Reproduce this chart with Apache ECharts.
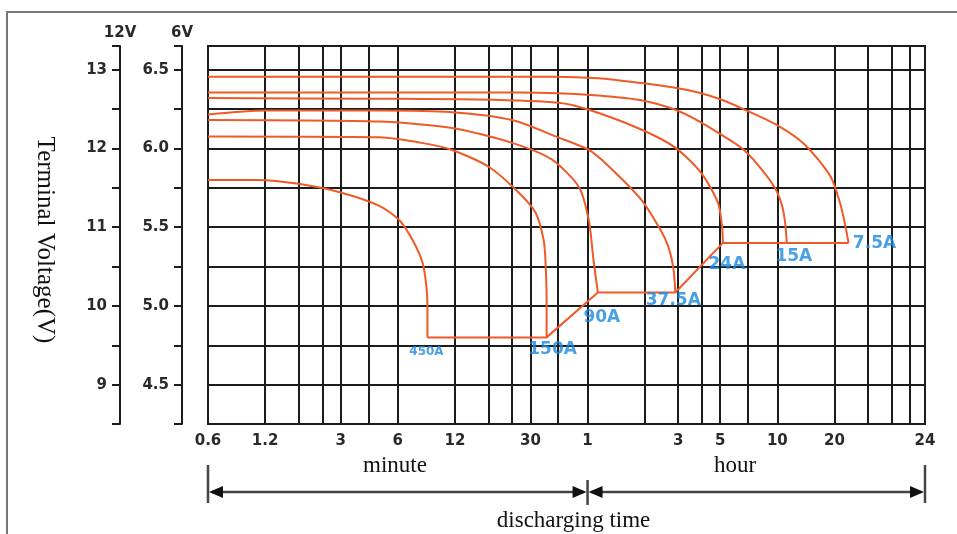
<!DOCTYPE html>
<html>
<head>
<meta charset="utf-8">
<script src="https://cdn.jsdelivr.net/npm/echarts@6.0.0/dist/echarts.min.js"></script>
<style>
html, body { margin: 0; padding: 0; background: #fff; }
#chart { width: 957px; height: 534px; }
</style>
</head>
<body>
<div id="chart"></div>
<script>
// discharge time in minutes, terminal voltage on the 12V scale
var currents = ['450A', '150A', '90A', '37.5A', '24A', '15A', '7.5A'];

var curve450 = [[0.6, 11.60], [1.1, 11.60], [1.8, 11.55], [3.0, 11.44], [4.8, 11.27], [6.1, 11.09], [7.2, 10.83], [8.1, 10.55], [8.47, 10.27], [8.6, 10.01], [8.6, 9.60]];
var curve150 = [[0.6, 12.15], [4.8, 12.14], [8, 12.07], [11.6, 11.98], [18, 11.77], [26, 11.44], [32, 11.18], [35.2, 10.84], [36, 10.58], [36.5, 10.08], [36.5, 9.60]];
var curve90 = [[0.6, 12.36], [4.8, 12.34], [11.6, 12.26], [24, 12.07], [38.8, 11.86], [54, 11.51], [61, 11.08], [64.5, 10.58], [68, 10.17]];
var curve37 = [[0.6, 12.43], [1.2, 12.48], [4.8, 12.48], [11.6, 12.46], [24, 12.36], [42, 12.14], [61, 11.98], [77, 11.78], [115, 11.35], [145, 10.97], [160, 10.75], [170, 10.48], [174, 10.17]];
var curve24 = [[0.6, 12.64], [4.8, 12.63], [16, 12.62], [42, 12.58], [61, 12.49], [115, 12.24], [174, 12.01], [238, 11.69], [292, 11.31], [307, 11.0], [310, 10.80]];
var curve15 = [[0.6, 12.71], [26, 12.71], [42, 12.70], [68.5, 12.67], [115, 12.61], [174, 12.49], [230, 12.35], [292, 12.20], [386, 12.01], [474, 11.79], [582, 11.50], [634, 11.28], [660, 11.05], [673, 10.80]];
var curve7 = [[0.6, 12.91], [40, 12.91], [68.5, 12.89], [115, 12.83], [174, 12.77], [230, 12.71], [303, 12.62], [405, 12.49], [604, 12.29], [836, 12.05], [1146, 11.64], [1293, 11.28], [1374, 11.00], [1423, 10.80]];
var cutoff = [[8.6, 9.60], [36.5, 9.60], [68, 10.17], [174, 10.17], [310, 10.80], [1423, 10.80]];

var curves = [curve450, curve150, curve90, curve37, curve24, curve15, curve7];

// vertical grid lines (minutes) and the printed tick labels
var gridTimes = [0.6, 1.2, 1.8, 2.4, 3, 4.2, 6, 12, 18, 24, 30, 42, 60, 120, 180, 240, 300, 420, 600, 1200, 1800, 2400, 3000, 3600];
var labelTimes = [0.6, 1.2, 3, 6, 12, 30, 60, 180, 300, 600, 1200, 3600];
var labelTexts = ['0.6', '1.2', '3', '6', '12', '30', '1', '3', '5', '10', '20', '24'];

// where each current label sits relative to the end of its curve
var labelOffsets = [[-1, 14], [6, 12], [4, 25], [-2, 8], [4, 22], [7, 14], [26, 1]];
var labelSizes = [12, 17, 17, 17, 17, 17, 17];

var chart = echarts.init(document.getElementById('chart'));

var INK = '#1c1c1c';
var tickFont = { fontFamily: 'DejaVu Sans', fontWeight: 'bold', fontSize: 15, color: '#2a2a2a' };

var series = curves.map(function (c, i) {
    return {
        name: currents[i],
        type: 'line',
        data: c,
        showSymbol: false,
        smooth: 0.25,
        lineStyle: { color: '#ef5a28', width: 2 },
        z: 3
    };
});

series.push({
    name: 'cutoff',
    type: 'line',
    data: cutoff,
    showSymbol: false,
    lineStyle: { color: '#ef5a28', width: 2 },
    z: 3
});

series.push({
    name: 'labels',
    type: 'scatter',
    symbolSize: 1,
    itemStyle: { color: 'rgba(0,0,0,0)' },
    data: curves.map(function (c, i) {
        return {
            value: c[c.length - 1],
            label: {
                show: true,
                position: 'inside',
                formatter: currents[i],
                offset: labelOffsets[i],
                fontSize: labelSizes[i]
            }
        };
    }),
    label: {
        show: true,
        color: '#1a88e0',
        fontFamily: 'DejaVu Sans',
        fontWeight: 'bold'
    },
    z: 5
});

var option = {
    animation: false,
    grid: { left: 208, right: 32, top: 46, bottom: 110, show: true, borderColor: INK, borderWidth: 2 },
    xAxis: {
        type: 'log',
        logBase: 10,
        min: 0.6,
        max: 3600,
        axisLine: { show: false },
        axisTick: { show: false, customValues: gridTimes },
        axisLabel: Object.assign({
            customValues: labelTimes,
            margin: 10,
            formatter: function (v) {
                for (var i = 0; i < labelTimes.length; i++) {
                    if (Math.abs(labelTimes[i] - v) / v < 1e-4) return labelTexts[i];
                }
                return '';
            }
        }, tickFont),
        splitLine: { show: true, lineStyle: { color: INK, width: 2 } }
    },
    yAxis: [{
        type: 'value',
        min: 8.5,
        max: 13.3,
        interval: 0.5,
        position: 'left',
        offset: 88,
        name: '12V',
        nameLocation: 'end',
        nameGap: 5,
        nameTextStyle: { fontFamily: 'DejaVu Sans', fontWeight: 'bold', fontSize: 15, color: '#2a2a2a' },
        axisLine: { show: true, lineStyle: { color: INK, width: 2 } },
        axisTick: { show: true, length: 8, lineStyle: { color: INK, width: 2 } },
        axisLabel: Object.assign({
            margin: 13,
            formatter: function (v) {
                return Math.abs(v - Math.round(v)) < 1e-6 ? String(Math.round(v)) : '';
            }
        }, tickFont),
        splitLine: { show: true, lineStyle: { color: INK, width: 2 } }
    }, {
        type: 'value',
        min: 4.25,
        max: 6.65,
        interval: 0.25,
        position: 'left',
        offset: 26,
        name: '6V',
        nameLocation: 'end',
        nameGap: 5,
        nameTextStyle: { fontFamily: 'DejaVu Sans', fontWeight: 'bold', fontSize: 15, color: '#2a2a2a' },
        axisLine: { show: true, lineStyle: { color: INK, width: 2 } },
        axisTick: { show: true, length: 8, lineStyle: { color: INK, width: 2 } },
        axisLabel: Object.assign({
            margin: 13,
            formatter: function (v) {
                var h = v * 2;
                if (Math.abs(h - Math.round(h)) < 1e-6 && v > 4.4 && v < 6.6) return v.toFixed(1);
                return '';
            }
        }, tickFont),
        splitLine: { show: false }
    }],
    series: series
};

chart.setOption(option);

// annotation below the axis: minute / hour spans
var xL = chart.convertToPixel({ xAxisIndex: 0 }, 0.6);
var xM = chart.convertToPixel({ xAxisIndex: 0 }, 60);
var xR = chart.convertToPixel({ xAxisIndex: 0 }, 3600);
var ay = 492;
var arrowStyle = { stroke: '#444', lineWidth: 2.5 };
var headStyle = { fill: '#111' };
var serif = 'Liberation Serif, Times New Roman, serif';

function head(x, dir) {
    return { type: 'polygon', shape: { points: [[x, ay], [x + dir * 14, ay - 6], [x + dir * 14, ay + 6]] }, style: headStyle };
}

chart.setOption({
    graphic: [
        { type: 'rect', shape: { x: 7, y: 12, width: 960, height: 540 }, style: { fill: 'none', stroke: '#777', lineWidth: 2 }, silent: true },
        { type: 'text', x: 45, y: 240, rotation: -Math.PI / 2, style: { text: 'Terminal Voltage(V)', font: '25px ' + serif, fill: '#111', align: 'center', verticalAlign: 'middle' } },
        { type: 'line', shape: { x1: xL, y1: 465, x2: xL, y2: 503 }, style: arrowStyle },
        { type: 'line', shape: { x1: xM, y1: 480, x2: xM, y2: 505 }, style: arrowStyle },
        { type: 'line', shape: { x1: xR, y1: 465, x2: xR, y2: 503 }, style: arrowStyle },
        { type: 'line', shape: { x1: xL + 4, y1: ay, x2: xM - 4, y2: ay }, style: arrowStyle },
        { type: 'line', shape: { x1: xM + 4, y1: ay, x2: xR - 4, y2: ay }, style: arrowStyle },
        head(xL + 1, 1), head(xM - 1, -1), head(xM + 1, 1), head(xR - 1, -1),
        { type: 'text', x: 395, y: 466, style: { text: 'minute', font: '23px ' + serif, fill: '#111', align: 'center', verticalAlign: 'middle' } },
        { type: 'text', x: 735, y: 466, style: { text: 'hour', font: '23px ' + serif, fill: '#111', align: 'center', verticalAlign: 'middle' } },
        { type: 'text', x: xM - 14, y: 521, style: { text: 'discharging time', font: '23px ' + serif, fill: '#111', align: 'center', verticalAlign: 'middle' } }
    ]
});
</script>
</body>
</html>
